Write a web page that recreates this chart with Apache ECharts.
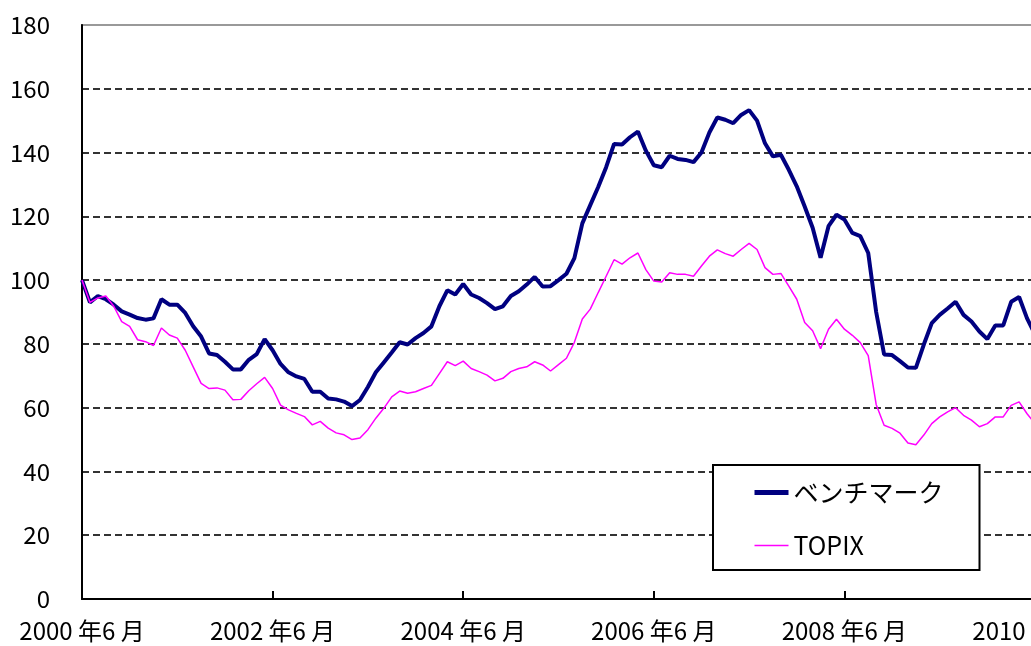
<!DOCTYPE html>
<html>
<head>
<meta charset="utf-8">
<script src="https://cdn.jsdelivr.net/npm/echarts@6/dist/echarts.min.js"></script>
<style>
html, body { margin: 0; padding: 0; overflow: hidden; background: #fff; }
#main { width: 1040px; height: 646px; }
</style>
</head>
<body>
<div id="main"></div>
<script>
// monthly categories, 2000/6 .. 2010/6
var months = [];
for (var i = 0; i < 121; i++) {
    var y = 2000 + Math.floor((5 + i) / 12);
    var m = (5 + i) % 12 + 1;
    months.push(y + '年' + m + '月');
}

var seriesNames = ['ベンチマーク', 'TOPIX'];

var benchmark = [
    100, 93, 95, 94, 92.3, 90.2, 89.2, 88.1, 87.6, 88,
    94, 92.3, 92.3, 89.7, 85.5, 82.3, 77, 76.5, 74.4, 72,
    72, 75, 76.8, 81.5, 78, 73.7, 71.1, 69.8, 69, 65,
    65, 62.9, 62.6, 61.9, 60.5, 62.4, 66.5, 71.1, 74.2, 77.3,
    80.5, 79.8, 81.8, 83.4, 85.5, 91.8, 96.8, 95.5, 98.8, 95.5,
    94.4, 92.8, 90.9, 91.8, 95, 96.5, 98.6, 101, 98, 98.1,
    100, 102, 106.9, 117.8, 123.5, 129.2, 135.4, 142.7, 142.5, 144.8,
    146.6, 140.6, 136, 135.4, 139, 138, 137.7, 137, 140, 146.3,
    151, 150.3, 149.2, 151.8, 153.3, 150, 142.9, 138.8, 139.3, 134.6,
    129.4, 123.1, 116.4, 107, 116.9, 120.5, 119, 114.8, 113.8, 108.5,
    90, 76.7, 76.5, 74.6, 72.6, 72.5, 79.8, 86.5, 89.1, 91.1,
    93.2, 89.1, 87, 83.9, 81.5, 85.8, 85.8, 93.2, 94.7, 88,
    83
];

var topix = [
    100, 93, 94.4, 95, 91.8, 87, 85.5, 81.3, 80.7, 79.5,
    85, 82.8, 81.8, 78, 72.8, 67.6, 66, 66.2, 65.5, 62.5,
    62.6, 65.3, 67.5, 69.5, 66, 60.8, 59.3, 58.2, 57.2, 54.6,
    55.7, 53.6, 52.1, 51.5, 50, 50.5, 53.1, 56.7, 59.8, 63.4,
    65.2, 64.5, 65, 66, 67, 70.7, 74.4, 73.2, 74.6, 72.3,
    71.3, 70.2, 68.4, 69.2, 71.3, 72.3, 72.8, 74.4, 73.4, 71.5,
    73.5, 75.5, 80.5, 87.8, 90.9, 96.1, 101.2, 106.4, 105, 107,
    108.5, 103.3, 99.7, 99.4, 102.3, 101.8, 101.8, 101.2, 104.4, 107.5,
    109.5, 108.3, 107.5, 109.6, 111.5, 109.6, 103.9, 101.8, 102.1, 98.1,
    94, 86.7, 84.1, 78.5, 84.6, 87.7, 84.6, 82.7, 80.4, 76.3,
    61, 54.5, 53.5, 52, 48.9, 48.4, 51.4, 55, 57.1, 58.7,
    60, 57.6, 56.1, 54, 55, 57.1, 57.1, 60.7, 61.8, 58.1,
    55
];

var yMin = 0, yMax = 180, yStep = 20;

var font = '"Noto Sans CJK JP", "Noto Sans", sans-serif';
var gridColors = ['transparent', '#333', '#333', '#333', '#333', '#333', '#333', '#333', '#333', 'transparent'];

var chart = echarts.init(document.getElementById('main'));
var option = {
    animation: false,
    backgroundColor: '#fff',
    textStyle: { fontFamily: font, color: '#000' },
    grid: {
        left: 82, top: 25, right: 5, bottom: 47,
        outerBoundsMode: 'none',
        containLabel: false,
        show: true, borderColor: '#999', borderWidth: 2
    },
    legend: {
        data: [
            { name: seriesNames[0], lineStyle: { width: 5 } },
            { name: seriesNames[1], lineStyle: { width: 1.5 } }
        ],
        orient: 'vertical',
        left: 713, top: 465,
        backgroundColor: '#fff',
        borderColor: '#000', borderWidth: 2, borderRadius: 0,
        padding: [15, 36, 12, 39],
        itemGap: 28,
        itemWidth: 34, itemHeight: 23,
        itemStyle: { opacity: 0 },
        textStyle: { fontFamily: font, fontSize: 25, color: '#000' }
    },
    xAxis: {
        type: 'category',
        data: months,
        boundaryGap: false,
        axisLine: { lineStyle: { color: '#000', width: 2 } },
        axisTick: { show: true, inside: true, length: 8, interval: 23, lineStyle: { color: '#000', width: 2 } },
        axisLabel: {
            interval: 23, fontSize: 24, margin: 20, color: '#000', fontFamily: font,
            formatter: function (v) { return v.replace('年', ' 年').replace(/(\d+)月$/, '$1 月'); }
        },
        splitLine: { show: false }
    },
    yAxis: {
        type: 'value',
        min: yMin, max: yMax, interval: yStep,
        axisLine: { show: true, lineStyle: { color: '#000', width: 2 } },
        axisTick: { show: false },
        axisLabel: { fontSize: 24, margin: 32, color: '#000', fontFamily: font },
        splitLine: { show: true, lineStyle: { color: gridColors, width: 2, type: [7, 4] } }
    },
    series: [
        {
            name: seriesNames[0], type: 'line', data: benchmark,
            symbol: 'none', lineStyle: { color: '#000080', width: 4 }, itemStyle: { color: '#000080' }
        },
        {
            name: seriesNames[1], type: 'line', data: topix,
            symbol: 'none', lineStyle: { color: '#ff00ff', width: 1.5 }, itemStyle: { color: '#ff00ff' }
        }
    ]
};
chart.setOption(option);
</script>
</body>
</html>
